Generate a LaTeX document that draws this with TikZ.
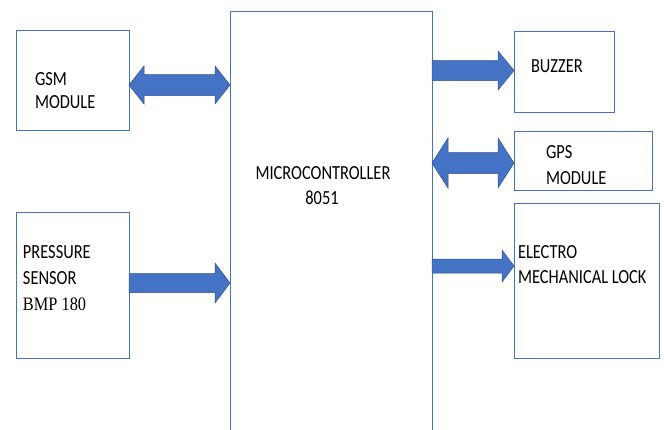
\documentclass[tikz,border=0pt]{standalone}
\usepackage{fontspec}
\setmainfont{Carlito}[FakeStretch=0.82]
\newfontfamily\tmsfont{Liberation Serif}[FakeStretch=0.86]
\usetikzlibrary{calc}
\definecolor{boxline}{RGB}{68,114,196}
\definecolor{arrfill}{RGB}{68,114,196}
\definecolor{arrline}{RGB}{47,82,143}
\tikzset{
  blk/.style={draw=boxline,line width=0.8pt,rectangle,inner sep=0pt,outer sep=0pt},
  lbl/.style={inner sep=0pt,outer sep=0pt,font=\fontsize{20}{24}\selectfont,text=black},
  lblser/.style={inner sep=0pt,outer sep=0pt,font=\tmsfont\fontsize{19}{22}\selectfont,text=black},
  fat/.style={fill=arrfill,draw=arrline,line width=0.5pt,line join=miter}
}
% #1 start, #2 end (tip), #3 shaft half, #4 head half, #5 head length
\newcommand\singlefat[5]{%
  \filldraw[fat] ($(#1)+(0,#3)$) -- ($(#2)+(-#5,#3)$) -- ($(#2)+(-#5,#4)$) -- (#2)
    -- ($(#2)+(-#5,-#4)$) -- ($(#2)+(-#5,-#3)$) -- ($(#1)+(0,-#3)$) -- cycle;}
\newcommand\doublefat[5]{%
  \filldraw[fat] (#1) -- ($(#1)+(#5,#4)$) -- ($(#1)+(#5,#3)$) -- ($(#2)+(-#5,#3)$) -- ($(#2)+(-#5,#4)$) -- (#2)
    -- ($(#2)+(-#5,-#4)$) -- ($(#2)+(-#5,-#3)$) -- ($(#1)+(#5,-#3)$) -- ($(#1)+(#5,-#4)$) -- cycle;}
\begin{document}
\begin{tikzpicture}[x=1pt,y=-1pt]
\useasboundingbox (0,0) rectangle (664,429);
\fill[white] (0,0) rectangle (664,429);
% boxes
\node[blk,minimum width=113pt,minimum height=100pt] (gsm) at (72.5,80) {};
\node[blk,minimum width=113pt,minimum height=146pt] (pres) at (72.5,285) {};
\node[rectangle,inner sep=0pt,outer sep=0pt,minimum width=202pt,minimum height=420pt] (mcu) at (331,221) {};
\draw[boxline,line width=0.8pt] (mcu.south west) -- (mcu.north west) -- (mcu.north east) -- (mcu.south east);
\node[blk,minimum width=100pt,minimum height=81pt] (buzz) at (564,71.5) {};
\node[blk,minimum width=138pt,minimum height=59pt] (gps) at (583,160.5) {};
\node[blk,minimum width=145pt,minimum height=155pt] (lock) at (586.5,280.5) {};
% arrow end points
\coordinate (a1l) at ([yshift=-5pt]gsm.east);
\coordinate (a1r) at (mcu.west |- a1l);
\coordinate (a2l) at ([yshift=2pt]pres.east);
\coordinate (a2r) at (mcu.west |- a2l);
\coordinate (a3r) at ([yshift=1pt]buzz.west);
\coordinate (a3l) at (mcu.east |- a3r);
\coordinate (a4r) at ([yshift=-2.5pt]gps.west);
\coordinate (a4l) at (mcu.east |- a4r);
\coordinate (a5r) at ([yshift=14.5pt]lock.west);
\coordinate (a5l) at (mcu.east |- a5r);
% arrows
\doublefat{a1l}{a1r}{10.5}{19}{15}
\singlefat{a2l}{a2r}{9.5}{20}{15}
\singlefat{a3l}{a3r}{10}{19.5}{16}
\doublefat{a4l}{a4r}{10.5}{25}{16}
\singlefat{a5l}{a5r}{7}{16}{12}
% labels
\node[lbl,anchor=base west] (t1) at (35,85) {GSM};
\node[lbl,anchor=base west] (t2) at (35,108) {MODULE};
\node[lbl,anchor=base west] (t3) at (23,258) {PRESSURE};
\node[lbl,anchor=base west] (t4) at (23,284) {SENSOR};
\node[lblser,anchor=base west] (t5) at (23,310) {BMP 180};
\node[lbl,anchor=base] (t6) at (323,179) {MICROCONTROLLER};
\node[lbl,anchor=base] (t7) at (322,204) {8051};
\node[lbl,anchor=base west] (t8) at (531,72) {BUZZER};
\node[lbl,anchor=base west] (t9) at (546,158) {GPS};
\node[lbl,anchor=base west] (t10) at (546,184) {MODULE};
\node[lbl,anchor=base west] (t11) at (518,258) {ELECTRO};
\node[lbl,anchor=base west] (t12) at (518,283) {MECHANICAL LOCK};
\end{tikzpicture}
\end{document}
